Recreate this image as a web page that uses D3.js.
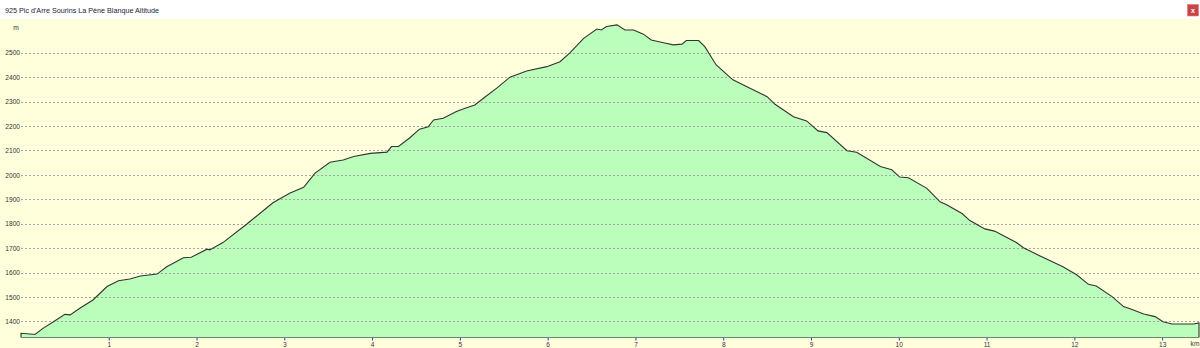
<!DOCTYPE html>
<html><head><meta charset="utf-8">
<script src="https://cdn.jsdelivr.net/npm/d3@7"></script>
<style>html,body{margin:0;padding:0;background:#fff;}svg{display:block;}</style>
</head><body>
<svg id="c" width="1200" height="348"></svg>
<script>
const title = "925 Pic d'Arre Sourins La Pène Blanque Altitude";
const distanceKm = [0,0.14,0.16,0.25,0.37,0.50,0.56,0.67,0.82,0.98,1.11,1.24,1.36,1.55,1.66,1.85,1.94,2.12,2.15,2.30,2.57,2.87,3.06,3.22,3.35,3.52,3.67,3.79,3.98,4.17,4.22,4.30,4.43,4.54,4.64,4.70,4.81,4.96,5.06,5.17,5.29,5.42,5.57,5.76,5.99,6.14,6.25,6.41,6.56,6.61,6.67,6.79,6.88,6.98,7.09,7.18,7.32,7.43,7.53,7.58,7.72,7.79,7.92,8.11,8.27,8.50,8.59,8.80,8.95,9.08,9.18,9.41,9.52,9.79,9.92,10.01,10.11,10.32,10.47,10.55,10.72,10.81,10.98,11.09,11.34,11.42,11.61,11.87,12.03,12.16,12.25,12.43,12.56,12.65,12.79,12.92,13.01,13.11,13.36,13.42];
const altitudeM = [1352,1348,1347,1372,1399,1429,1427,1454,1488,1543,1567,1574,1586,1594,1624,1661,1663,1696,1693,1723,1798,1886,1925,1949,2007,2052,2061,2075,2088,2093,2116,2116,2152,2187,2197,2225,2232,2259,2273,2286,2320,2355,2400,2425,2443,2463,2498,2559,2597,2593,2607,2614,2593,2593,2576,2552,2541,2532,2535,2550,2550,2525,2450,2389,2361,2320,2289,2238,2221,2180,2173,2099,2093,2034,2021,1991,1988,1945,1890,1877,1842,1813,1779,1770,1723,1702,1668,1624,1590,1552,1545,1502,1461,1450,1431,1420,1399,1390,1390,1394];
const yTicks = [1400,1500,1600,1700,1800,1900,2000,2100,2200,2300,2400,2500];
const xTicks = [1,2,3,4,5,6,7,8,9,10,11,12,13];

const svg = d3.select("#c");
const font = "'Liberation Sans', Arial, sans-serif";
const x = d3.scaleLinear().domain([0, 13.42]).range([21, 1199]);
const y = d3.scaleLinear().domain([1334.5, 2638]).range([337.5, 19]);

// backgrounds
svg.append("rect").attr("x",0).attr("y",0).attr("width",1200).attr("height",19).attr("fill","#ffffff");
svg.append("rect").attr("x",0).attr("y",19).attr("width",1200).attr("height",329).attr("fill","#ffffdc");

// title
svg.append("text").attr("x",5).attr("y",12.5).attr("font-family",font).attr("font-size",7.2)
  .attr("fill","#22223a").text(title);
// close button
svg.append("rect").attr("x",1187.5).attr("y",4.5).attr("width",11).attr("height",11.5)
  .attr("fill","#c94545").attr("stroke","#e07a7a").attr("stroke-width",0.6);
svg.append("text").attr("x",1193).attr("y",12.6).attr("text-anchor","middle").attr("font-family",font)
  .attr("font-size",7).attr("font-weight","bold").attr("fill","#ffffff").text("x");

const data = distanceKm.map((d,i)=>({d, a: altitudeM[i]}));
const y0 = y.domain()[0];
// area
const area = d3.area().x(p=>x(p.d)).y0(y(y0)).y1(p=>y(p.a));
svg.append("path").datum(data).attr("d",area).attr("fill","#bbfdbb");

// gridlines
svg.append("g").selectAll("line").data(yTicks).join("line")
  .attr("x1",21).attr("x2",1199).attr("y1",d=>Math.round(y(d))+0.5).attr("y2",d=>Math.round(y(d))+0.5)
  .attr("stroke","#a6a6a6").attr("stroke-width",1).attr("stroke-dasharray","2,2");

// outline (incl. vertical edges)
const outline = [{d:0,a:y0}, ...data, {d:13.42,a:y0}];
const line = d3.line().x(p=>x(p.d)).y(p=>y(p.a));
svg.append("path").datum(outline).attr("d",line).attr("fill","none").attr("stroke","#333").attr("stroke-width",1.1);
// baseline
svg.append("line").attr("x1",21).attr("x2",1199).attr("y1",y(y0)).attr("y2",y(y0))
  .attr("stroke","#6a8a6a").attr("stroke-width",1.2);

// y axis labels
const yAxis = d3.axisLeft(y).tickValues(yTicks).tickSize(0).tickPadding(1).tickFormat(d3.format("d"));
const gy = svg.append("g").attr("transform","translate(21,0)").call(yAxis);
gy.select(".domain").remove();
gy.selectAll("text").attr("font-family",font).attr("font-size",6.6).attr("fill","#333");

// x axis
const xAxis = d3.axisBottom(x).tickValues(xTicks).tickSize(2.5).tickPadding(1.5).tickFormat(d3.format("d"));
const gx = svg.append("g").attr("transform",`translate(0,${y(y0)+0.5})`).call(xAxis);
gx.select(".domain").remove();
gx.selectAll("line").attr("stroke","#2a2aff");
gx.selectAll("text").attr("font-family",font).attr("font-size",6.6).attr("fill","#333");

// unit labels
svg.append("text").attr("x",16).attr("y",29.5).attr("text-anchor","middle").attr("font-family",font)
  .attr("font-size",6.6).attr("fill","#333").text("m");
svg.append("text").attr("x",1195).attr("y",346).attr("text-anchor","middle").attr("font-family",font)
  .attr("font-size",6.6).attr("fill","#333").text("km");
</script>
</body></html>
